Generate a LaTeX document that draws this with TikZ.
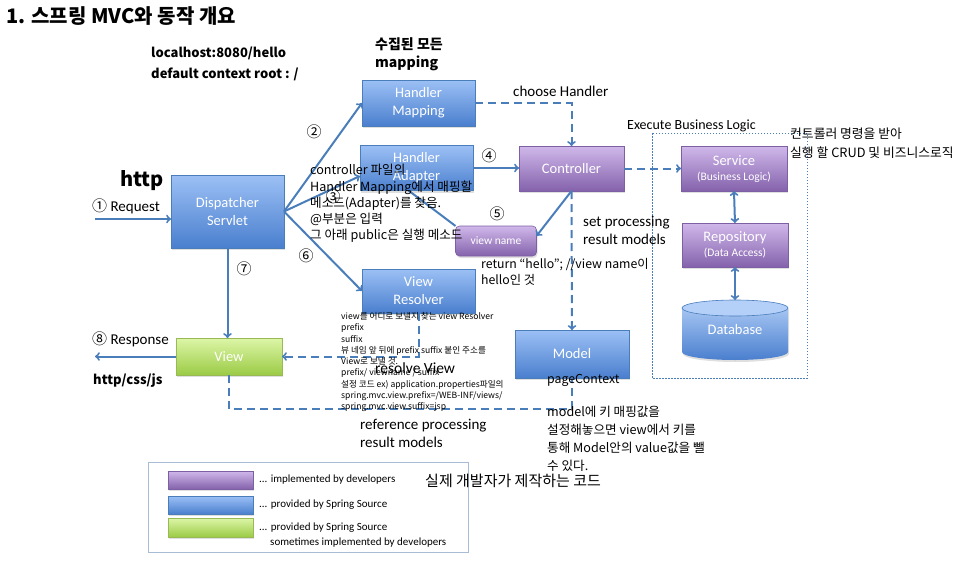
\documentclass[tikz,border=0pt]{standalone}
\usepackage{fontspec}
\setmainfont{Carlito}
\newfontfamily\kr{Noto Sans CJK KR}
\usepackage{tikz}
\usetikzlibrary{arrows, shadows}

\definecolor{bluetop}{HTML}{9CC0F5}
\definecolor{bluebot}{HTML}{4A7FCE}
\definecolor{blueedge}{HTML}{4A7EBB}
\definecolor{purptop}{HTML}{D0B8EA}
\definecolor{purpbot}{HTML}{8462AC}
\definecolor{purpedge}{HTML}{7D5FA3}
\definecolor{greentop}{HTML}{DDF6A8}
\definecolor{greenbot}{HTML}{9BCB45}
\definecolor{greenedge}{HTML}{98B956}
\definecolor{flowc}{HTML}{4A7EBB}
\definecolor{dbtop}{HTML}{B4D0F8}
\definecolor{legendc}{HTML}{A9BCD6}

\begin{document}
\begin{tikzpicture}[x=1pt,y=-1pt,
	box/.style={rectangle,draw,line width=0.6pt,align=center,text=white,inner sep=0pt,outer sep=0pt,
		font=\fontsize{14.5}{18}\selectfont,drop shadow={opacity=0.25,shadow xshift=1pt,shadow yshift=-2pt}},
	spring/.style={box,draw=blueedge,top color=bluetop,bottom color=bluebot},
	devel/.style={box,draw=purpedge,top color=purptop,bottom color=purpbot},
	mixed/.style={box,draw=greenedge,top color=greentop,bottom color=greenbot},
	flow/.style={->,draw=flowc,line width=2pt},
	dflow/.style={flow,dash pattern=on 8pt off 5pt},
	dline/.style={draw=flowc,line width=2pt,dash pattern=on 8pt off 5pt},
	note/.style={anchor=west,inner sep=0pt,align=left,text=black},
	num/.style={inner sep=0pt,font=\kr\fontsize{15}{15}\selectfont}]
	\useasboundingbox (0,0) rectangle (962,565);

	\node[note,font=\kr\bfseries\fontsize{20}{20}\selectfont] (title) at (6,16) {1. 스프링 MVC와 동작 개요};

	% business logic area
	\draw[flowc,line width=0.7pt,dash pattern=on 1.5pt off 1.5pt] (652,133) rectangle (807,378);

	% boxes
	\node[spring,minimum width=113pt,minimum height=46pt] (hmap) at (418.5,103) {Handler\\Mapping};
	\node[spring,minimum width=113pt,minimum height=45pt] (hadapt) at (416.5,168) {Handler\\Adapter};
	\node[devel,minimum width=105pt,minimum height=45pt] (ctrl) at (571.5,168.5) {Controller};
	\node[devel,minimum width=106pt,minimum height=45pt] (service) at (734,168.5)
		{Service\\[-3pt]{\fontsize{11.5}{13}\selectfont (Business Logic)}};
	\node[devel,minimum width=106pt,minimum height=44pt] (repo) at (735,245)
		{Repository\\[-3pt]{\fontsize{11.5}{13}\selectfont (Data Access)}};
	\node[spring,minimum width=113pt,minimum height=73pt] (disp) at (227.5,211.5) {Dispatcher\\Servlet};
	\node[devel,rounded corners=4pt,minimum width=81pt,minimum height=30pt,font=\fontsize{11.5}{13}\selectfont] (vname) at (496,241) {view name};
	\node[spring,minimum width=113pt,minimum height=44pt] (vres) at (418.5,291) {View\\Resolver};
	\node[mixed,minimum width=106pt,minimum height=37pt] (view) at (229,356.5) {View};
	\node[spring,minimum width=114pt,minimum height=48pt] (model) at (572,354) {Model};

	% database
	\path[top color=dbtop,bottom color=bluebot,drop shadow={opacity=0.25,shadow xshift=1pt,shadow yshift=-2pt}]
		(682,308) -- (682,352) arc[start angle=180,end angle=0,x radius=53,y radius=8]
		-- (788,308) arc[start angle=0,end angle=-180,x radius=53,y radius=8] -- cycle;
	\draw[blueedge,line width=0.6pt,fill=dbtop] (735,308) ellipse[x radius=53,y radius=8];
	\node[inner sep=0pt,outer sep=0pt,minimum width=106pt,minimum height=60pt,text=white,
		font=\fontsize{14.5}{18}\selectfont] (db) at (735,330) {\raisebox{-3pt}{Database}};

	\coordinate (reqin) at (95,219);
	\coordinate (resout) at (95,357);
	\coordinate (refc) at (572,409);

	% connectors
	\draw[flow] (reqin) -- (reqin -| disp.west);
	\draw[flow] (disp.east) -- (hmap.west);
	\draw[flow] (disp.east) -- ([yshift=-8pt]hadapt.west);
	\draw[flow] (disp.east) -- (vres.west);
	\draw[flow] (disp.south) -- (disp.south |- view.north);
	\draw[flow] (hadapt.east) -- (hadapt.east -| ctrl.west);
	\draw[flow] (ctrl.south) -- ([yshift=5pt]vname.east);
	\draw[draw=flowc,line width=2pt] ([xshift=-8pt]hadapt.south) -- (vname.north west);
	\draw[flow] (view.west) -- (view.west -| resout);
	\draw[flow,<->] (service.south) -- (repo.north);
	\draw[flow,<->] (repo.south) -- (db.north);
	\draw[dflow] (hmap.east) -| (ctrl.north);
	\draw[dflow] (ctrl.east) -- (service.west);
	\draw[dflow] (ctrl.south) -- (model.north);
	\draw[dflow] (vres.south) |- (view.east);
	\draw[dline] (view.south) |- (refc) -- (model.south);

	% numbers
	\node[num] (n2) at (314,132) {②};
	\node[num] (n3) at (333,197) {③};
	\node[num] (n4) at (489,156) {④};
	\node[num] (n5) at (497,214) {⑤};
	\node[num] (n6) at (306,256) {⑥};
	\node[num] (n7) at (244,269) {⑦};

	% texts
	\node[note,font=\kr\bfseries\fontsize{13}{21}\selectfont] (url) at (151,63.5) {localhost:8080/hello\\default context root : /};
	\node[note,font=\kr\bfseries\fontsize{14}{18}\selectfont] (collect) at (375,54) {수집된 모든\\mapping};
	\node[note,font=\fontsize{15}{18}\selectfont] (choose) at (513,91) {choose Handler};
	\node[note,font=\fontsize{14}{16}\selectfont] (exec) at (627,126) {Execute Business Logic};
	\node[note,font=\kr\fontsize{12.8}{19}\selectfont] (crud) at (790,143.5) {컨트롤러 명령을 받아\\실행 할 CRUD 및 비즈니스로직};
	\node[note,font=\kr\bfseries\fontsize{20}{20}\selectfont] (http) at (120,181) {http};
	\node[note,font=\fontsize{15}{18}\selectfont] (req) at (92,206) {{\kr\fontsize{15}{15}\selectfont ①} Request};
	\node[note,font=\fontsize{15}{18}\selectfont] (res) at (92,339) {{\kr\fontsize{15}{15}\selectfont ⑧} Response};
	\node[note,font=\kr\bfseries\fontsize{13}{16}\selectfont] (css) at (93,381) {http/css/js};
	\node[note,font=\kr\fontsize{12.6}{16.2}\selectfont] (adapt) at (310,203.5)
		{controller 파일의\\Handler Mapping에서 매핑할\\메소드(Adapter)를 찾음.\\@부분은 입력\\그 아래 public은 실행 메소드};
	\node[note,font=\fontsize{15}{18}\selectfont] (setres) at (583,230) {set processing\\result models};
	\node[note,font=\kr\fontsize{12.3}{16}\selectfont] (ret) at (481,272) {return “hello”; //view name이\\hello인 것};
	\node[note,font=\kr\fontsize{8.6}{11.25}\selectfont] (prefix) at (341,362)
		{view를 어디로 보낼지 찾는 view Resolver\\prefix\\suffix\\뷰 네임 앞 뒤에 prefix suffix 붙인 주소를\\View로 보낼 것.\\prefix/ viewname / suffix\\설정 코드 ex) application.properties파일의\\spring.mvc.view.prefix=/WEB-INF/views/\\spring.mvc.view.suffix=jsp};
	\node[note,font=\fontsize{15.5}{18}\selectfont] (resolve) at (375,368) {resolve View};
	\node[note,font=\kr\fontsize{12.3}{16}\selectfont] (page) at (547,380) {pageContext};
	\node[note,font=\kr\fontsize{12.6}{18}\selectfont] (key) at (547,439)
		{model에 키 매핑값을\\설정해놓으면 view에서 키를\\통해 Model안의 value값을 뺄\\수 있다.};
	\node[note,font=\fontsize{15}{18}\selectfont] (refres) at (360,433) {reference processing\\result models};

	% legend
	\draw[legendc,line width=0.8pt] (148,462) rectangle (468,552);
	\node[devel,minimum width=85pt,minimum height=18pt] (keydev) at (210.5,480) {};
	\node[spring,minimum width=85pt,minimum height=18pt] (keyspr) at (210.5,505) {};
	\node[mixed,minimum width=85pt,minimum height=19pt] (keymix) at (210.5,527.5) {};
	\node[note,font=\fontsize{11}{15}\selectfont] at (259,480) {... implemented by developers};
	\node[note,font=\fontsize{11}{15}\selectfont] at (259,505) {... provided by Spring Source};
	\node[note,font=\fontsize{11}{15}\selectfont] at (259,535.5) {... provided by Spring Source\\\hspace*{11pt}sometimes implemented by developers};
	\node[note,font=\kr\fontsize{15}{18}\selectfont] (real) at (425,481) {실제 개발자가 제작하는 코드};
\end{tikzpicture}
\end{document}
